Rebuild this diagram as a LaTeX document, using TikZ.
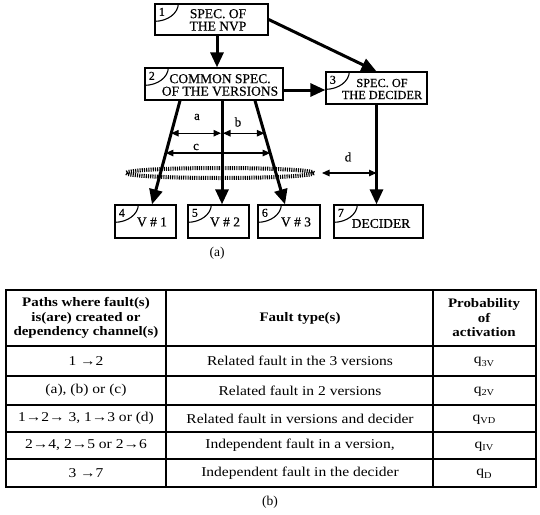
\documentclass[tikz,border=0pt]{standalone}
\usepackage{fontspec}
\setmainfont{Liberation Serif}
\newfontfamily\boxfont[FakeBold=0.5]{Liberation Serif}
\newfontfamily\tabfont[FakeStretch=1.15]{Liberation Serif}
\usetikzlibrary{arrows.meta,calc,shapes.geometric}

\tikzset{
  box/.style={draw, line width=1.3pt, rectangle, inner sep=0pt},
  boxtext/.style={font=\boxfont\fontsize{13.5}{12.5}\selectfont, align=center, inner sep=0pt},
  num/.style={font=\boxfont\fontsize{12}{12}\selectfont, inner sep=0pt},
  tag/.style={line width=1.1pt},
  flow/.style={line width=3pt, -{Triangle[length=15pt,width=13pt]}},
  dim/.style={line width=1.1pt, {Triangle[length=7.5pt,width=6.5pt]}-{Triangle[length=7.5pt,width=6.5pt]}},
  dimlabel/.style={font=\boxfont\fontsize{13}{13}\selectfont, inner sep=0pt},
  grid/.style={line width=1.2pt},
  head/.style={font=\tabfont\bfseries\fontsize{13}{14.5}\selectfont, align=center, inner sep=0pt},
  cell/.style={font=\tabfont\fontsize{13.5}{14}\selectfont, inner sep=0pt},
  caption/.style={font=\fontsize{13.5}{14}\selectfont, inner sep=0pt}
}

\newcommand{\qsub}[1]{q\raisebox{-2.5pt}{\fontsize{9}{9}\selectfont #1}}

\begin{document}
\begin{tikzpicture}[x=1pt,y=-1pt]
\useasboundingbox (0,0) rectangle (540,514);

% ---------- specification boxes ----------
\node[box, minimum width=113, minimum height=31] (b1) at (211.5,19.5) {};
\node[box, minimum width=138, minimum height=32] (b2) at (214,84) {};
\node[box, minimum width=101, minimum height=32] (b3) at (376.5,88) {};
\node[box, minimum width=61, minimum height=33] (b4) at (145.5,221.5) {};
\node[box, minimum width=61, minimum height=33] (b5) at (218.5,221.5) {};
\node[box, minimum width=62, minimum height=33] (b6) at (289,221.5) {};
\node[box, minimum width=89, minimum height=33] (b7) at (378.5,221.5) {};

\node[boxtext] (t1) at (218,20) {SPEC. OF\\THE NVP};
\node[boxtext] (t2) at (220,85) {COMMON SPEC.\\OF THE VERSIONS};
\node[boxtext, font=\boxfont\fontsize{12.3}{12}\selectfont] (t3) at (382,89) {SPEC. OF\\THE DECIDER};
\node[boxtext] (t4) at (152,222) {V \# 1};
\node[boxtext] (t5) at (225,222) {V \# 2};
\node[boxtext] (t6) at (296,222) {V \# 3};
\node[boxtext] (t7) at (381,223.5) {DECIDER};

% numbered corner tags
\foreach \b/\n in {b1/1,b2/2,b3/3,b4/4,b5/5,b6/6,b7/7}{
  \draw[tag] ($(\b.north west)+(24,0)$) arc[start angle=0,end angle=90,x radius=24,y radius=18];
  \node[num] (n\n) at ($(\b.north west)+(7.5,8.5)$) {\n};
}

% ---------- flows ----------
\draw[flow] ([xshift=3pt]b2.north |- b1.south) -- ([xshift=3pt]b2.north);
\draw[flow] (b1.east) -- (b3.north);
\draw[flow] ([yshift=-6pt]b2.east) -- ([yshift=-6pt]b2.east -| b3.west);
\draw[flow] (b3.south) -- (b3.south |- b7.north);

\coordinate (s4) at ([xshift=-34pt]b2.south);
\coordinate (s5) at ([xshift=8pt]b2.south);
\coordinate (s6) at ([xshift=41pt]b2.south);
\coordinate (e4) at ([xshift=6.5pt]b4.north);
\coordinate (e5) at ([xshift=3.5pt]b5.north);
\coordinate (e6) at ([xshift=-4pt]b6.north);
\draw[flow] (s4) -- (e4);
\draw[flow] (s5) -- (e5);
\draw[flow] (s6) -- (e6);

% ---------- dependency channels ----------
\coordinate (a1) at ($(s4)!0.314!(e4)$);
\coordinate (a2) at ($(s5)!0.314!(e5)$);
\coordinate (a3) at ($(s6)!0.314!(e6)$);
\coordinate (c1) at ($(s4)!0.505!(e4)$);
\coordinate (c3) at ($(s6)!0.505!(e6)$);
\draw[dim] (a1) -- ([xshift=-1pt]a2);
\draw[dim] ([xshift=1pt]a2) -- (a3);
\draw[dim] (c1) -- (c3);
\node[dimlabel] (la) at (197,117) {a};
\node[dimlabel] (lb) at (238,122) {b};
\node[dimlabel] (lc) at (196,147) {c};

\node[ellipse, draw, line width=4pt, dash pattern=on 1.1pt off 1.1pt,
      minimum width=188, minimum height=10, inner sep=0pt] (ring) at (220,173) {};
\draw[dim] ([xshift=6pt]ring.east) -- (ring.east -| b3.south);
\node[dimlabel] (ld) at (348,157) {d};

\node[caption] (capa) at (217,253) {(a)};

% ---------- table ----------
\draw[grid, line width=1.4pt] (6,290) rectangle (536,487);
\draw[grid] (166,290) -- (166,487);
\draw[grid] (433,290) -- (433,487);
\foreach \yy in {346,376,405,432,459}{
  \draw[grid] (6,\yy) -- (536,\yy);
}

\node[head] (h1) at (86,318) {Paths where fault(s)\\is(are) created or\\dependency channel(s)};
\node[head] (h2) at (300,318) {Fault type(s)};
\node[head] (h3) at (484,318) {Probability\\of\\activation};

\node[cell] (p1) at (86,361) {1 →2};
\node[cell] (p2) at (86,390.5) {(a), (b) or (c)};
\node[cell] (p3) at (86,418.5) {1→2→ 3, 1→3 or (d)};
\node[cell] (p4) at (86,445.5) {2→4, 2→5 or 2→6};
\node[cell] (p5) at (86,473) {3 →7};

\node[cell] (f1) at (300,361) {Related fault in the 3 versions};
\node[cell] (f2) at (300,390.5) {Related fault in 2 versions};
\node[cell] (f3) at (300,418.5) {Related fault in versions and decider};
\node[cell] (f4) at (300,445.5) {Independent fault in a version,};
\node[cell] (f5) at (300,473) {Independent fault in the decider};

\node[cell] (q1) at (484,362) {\qsub{3V}};
\node[cell] (q2) at (484,391.5) {\qsub{2V}};
\node[cell] (q3) at (484,419.5) {\qsub{VD}};
\node[cell] (q4) at (484,446.5) {\qsub{IV}};
\node[cell] (q5) at (484,474) {\qsub{D}};

\node[caption] (capb) at (270,502) {(b)};
\end{tikzpicture}
\end{document}
